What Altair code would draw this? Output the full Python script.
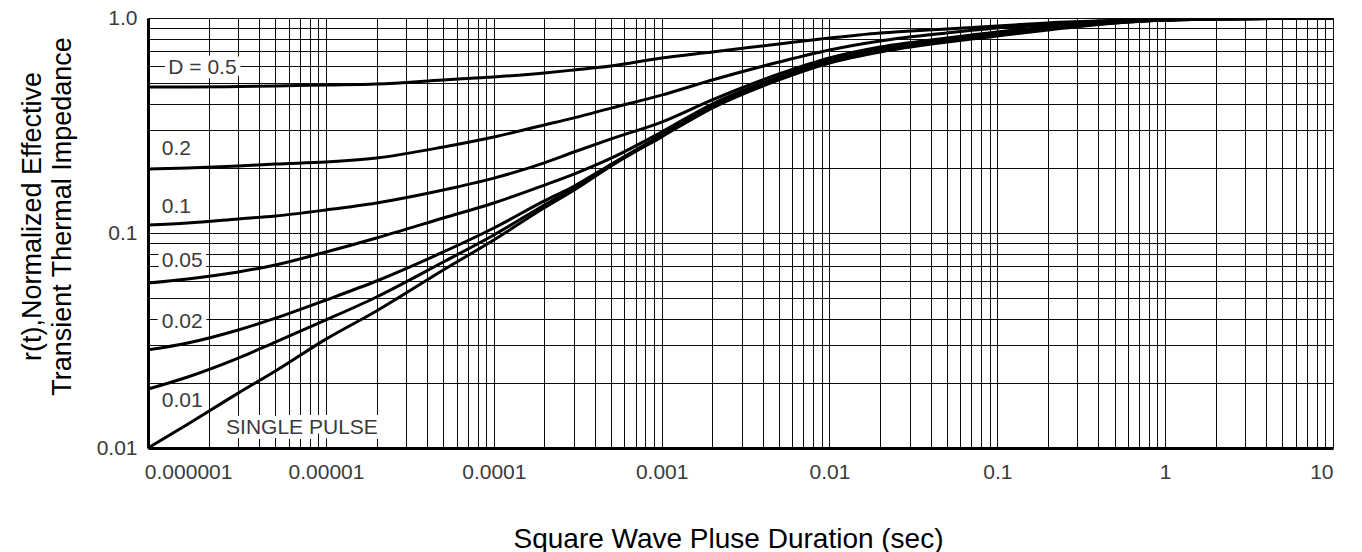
import altair as alt
import pandas as pd

# ---------------- data ----------------
X_POINTS = [8.7e-7, 1.5e-6, 3e-6, 5e-6, 1e-5, 2e-5, 5e-5, 1e-4, 2e-4, 3e-4, 5e-4,
            1e-3, 2e-3, 5e-3, 1e-2, 2e-2, 5e-2, 0.1, 0.2, 0.5, 1, 2, 10]

D_050 = [0.478, 0.478, 0.480, 0.483, 0.488, 0.493, 0.515, 0.532, 0.555, 0.573, 0.598,
         0.652, 0.695, 0.757, 0.807, 0.852, 0.889, 0.918, 0.948, 0.974, 0.989, 0.995, 1.0]
D_020 = [0.1985, 0.2006, 0.2049, 0.2094, 0.2139, 0.2233, 0.2512, 0.2797, 0.318, 0.343, 0.381,
         0.438, 0.515, 0.624, 0.710, 0.782, 0.852, 0.899, 0.928, 0.968, 0.984, 0.992, 1.0]
D_010 = [0.1089, 0.1113, 0.1162, 0.120, 0.128, 0.138, 0.1585, 0.180, 0.212, 0.238, 0.274,
         0.328, 0.416, 0.549, 0.652, 0.733, 0.807, 0.861, 0.908, 0.958, 0.979, 0.990, 1.0]
D_005 = [0.0585, 0.0611, 0.0659, 0.0710, 0.0816, 0.0948, 0.1174, 0.1379, 0.167, 0.188, 0.223,
         0.295, 0.398, 0.532, 0.638, 0.718, 0.799, 0.852, 0.899, 0.958, 0.979, 0.990, 1.0]
D_002 = [0.0286, 0.0308, 0.0354, 0.0402, 0.0488, 0.0598, 0.0816, 0.1055, 0.141, 0.165, 0.209,
         0.286, 0.390, 0.526, 0.631, 0.710, 0.790, 0.843, 0.899, 0.958, 0.979, 0.990, 1.0]
D_001 = [0.0188, 0.0214, 0.0262, 0.0311, 0.0394, 0.0504, 0.0733, 0.0979, 0.135, 0.162, 0.207,
         0.283, 0.386, 0.520, 0.624, 0.702, 0.782, 0.834, 0.889, 0.948, 0.979, 0.990, 1.0]
SINGLE = [0.0100, 0.0129, 0.0180, 0.0228, 0.0321, 0.0434, 0.0673, 0.0928, 0.131, 0.158, 0.205,
          0.280, 0.381, 0.515, 0.617, 0.695, 0.773, 0.825, 0.879, 0.948, 0.979, 0.990, 1.0]

SERIES_NAMES = ["D=0.5", "D=0.2", "D=0.1", "D=0.05", "D=0.02", "D=0.01", "Single pulse"]
SERIES_VALUES = [D_050, D_020, D_010, D_005, D_002, D_001, SINGLE]

LABEL_TEXT = ["D = 0.5", "0.2", "0.1", "0.05", "0.02", "0.01", "SINGLE PULSE"]
LABEL_X = [1.15e-6, 1.05e-6, 1.05e-6, 1.05e-6, 1.05e-6, 1.05e-6, 2.54e-6]
LABEL_Y = [0.585, 0.246, 0.132, 0.0741, 0.0386, 0.01654, 0.01239]

X_DOMAIN = [8.7e-7, 10]
Y_DOMAIN = [0.01, 1]
X_DECADES = [1e-6, 1e-5, 1e-4, 1e-3, 1e-2, 1e-1, 1, 10]
X_DECADE_LABELS = ["0.000001", "0.00001", "0.0001", "0.001", "0.01", "0.1", "1", "10"]
Y_DECADES = [0.01, 0.1, 1]
Y_DECADE_LABELS = ["0.01", "0.1", "1.0"]
MULTIPLIERS = [1, 2, 3, 4, 5, 6, 7, 8, 9]

X_TITLE = "Square Wave Pluse Duration (sec)"
Y_TITLE = ["r(t),Normalized Effective", "Transient Thermal Impedance"]

# ---------------- tables ----------------
rows = []
for name, vals in zip(SERIES_NAMES, SERIES_VALUES):
    for xv, yv in zip(X_POINTS, vals):
        rows.append({"series": name, "x": xv, "y": yv})
curves = pd.DataFrame(rows)
labels = pd.DataFrame({"text": LABEL_TEXT, "x": LABEL_X, "y": LABEL_Y})

x_grid = [m * d for d in X_DECADES[:-1] for m in MULTIPLIERS] + [X_DECADES[-1]]
y_grid = [m * d for d in Y_DECADES[:-1] for m in MULTIPLIERS] + [Y_DECADES[-1]]


def label_expr(values, texts):
    expr = "''"
    for v, t in reversed(list(zip(values, texts))):
        expr = f"(abs(datum.value/{v} - 1) < 1e-6 ? '{t}' : {expr})"
    return expr


FONT = "Liberation Sans, Arial, sans-serif"
LABEL_COLOR = "#3a3a3a"
LABEL_SIZE = 21

x_enc = alt.X(
    "x:Q",
    scale=alt.Scale(type="log", domain=X_DOMAIN),
    axis=alt.Axis(
        values=x_grid,
        labelExpr=label_expr(X_DECADES, X_DECADE_LABELS),
        labelOverlap=False,
        labelFont=FONT,
        labelFontSize=LABEL_SIZE,
        labelColor=LABEL_COLOR,
        labelPadding=13,
        labelOffset={"condition": {"test": "datum.value < 2e-6", "value": 30}, "value": 0},
        ticks=False,
        tickSize=0,
        grid=True,
        gridColor="#000000",
        gridWidth=1,
        gridOpacity={"condition": {"test": "datum.value < 2e-6", "value": 0}, "value": 0.95},
        domainColor="#000000",
        domainWidth=3,
        title=X_TITLE,
        titleFont=FONT,
        titleFontSize=28,
        titleFontWeight="normal",
        titleColor="#000000",
        titleX=580,
        titleY=99,
        titleBaseline="alphabetic",
        titleAlign="center",
    ),
)

y_enc = alt.Y(
    "y:Q",
    scale=alt.Scale(type="log", domain=Y_DOMAIN),
    axis=alt.Axis(
        values=y_grid,
        labelExpr=label_expr(Y_DECADES, Y_DECADE_LABELS),
        labelOverlap=False,
        labelFont=FONT,
        labelFontSize=LABEL_SIZE,
        labelColor=LABEL_COLOR,
        labelPadding=11,
        ticks=False,
        tickSize=0,
        grid=True,
        gridColor="#000000",
        gridWidth=1,
        gridOpacity=0.95,
        domainColor="#000000",
        domainWidth=3,
        title=Y_TITLE,
        titleFont=FONT,
        titleFontSize=27,
        titleFontWeight="normal",
        titleColor="#000000",
        titleLineHeight=30,
        titleAngle=270,
        titleX=-108,
        titleY=198,
        titleBaseline="alphabetic",
        titleAlign="center",
    ),
)

halo = alt.Chart(labels).mark_text(
    align="left", baseline="middle", font=FONT, fontSize=LABEL_SIZE,
    fill="white", stroke="white", strokeWidth=10, strokeJoin="round",
).encode(x=x_enc, y=y_enc, text="text:N")

text = alt.Chart(labels).mark_text(
    align="left", baseline="middle", font=FONT, fontSize=LABEL_SIZE, fill=LABEL_COLOR,
).encode(x=x_enc, y=y_enc, text="text:N")

lines = alt.Chart(curves).mark_line(
    color="#000000", strokeWidth=3, interpolate="monotone", clip=True,
).encode(x=x_enc, y=y_enc, detail="series:N", order="x:Q")

chart = (
    alt.layer(halo, text, lines)
    .properties(
        width=1185,
        height=430,
        autosize=alt.AutoSizeParams(type="none"),
        padding={"left": 148, "top": 18, "right": 29, "bottom": 104},
        background="white",
    )
    .configure_view(stroke="transparent")
)

chart.save("out.html", embed_options={"renderer": "svg", "actions": False})
